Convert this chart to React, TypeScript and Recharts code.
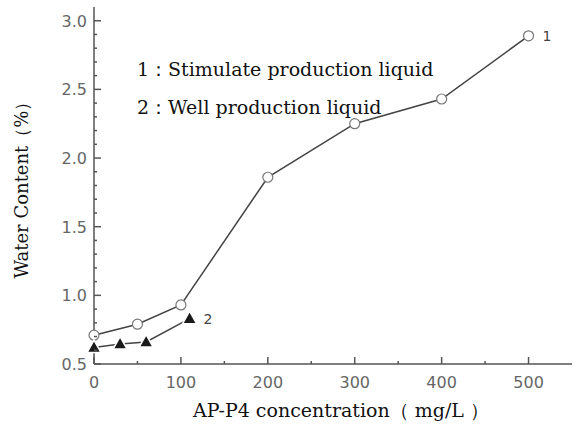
import { LabelList, Line, LineChart, XAxis, YAxis } from 'recharts';

// series 1: stimulate production liquid (open circles)
const stimX = [0, 50, 100, 200, 300, 400, 500];
const stimY = [0.71, 0.79, 0.93, 1.86, 2.25, 2.43, 2.89];
// series 2: well production liquid (filled triangles)
const wellX = [0, 30, 60, 110];
const wellY = [0.62, 0.645, 0.66, 0.83];

const X_TICKS = [0, 50, 100, 150, 200, 250, 300, 350, 400, 450, 500];
const Y_TICKS = [0.5, 0.6, 0.7, 0.8, 0.9, 1.0, 1.1, 1.2, 1.3, 1.4, 1.5, 1.6, 1.7, 1.8, 1.9, 2.0, 2.1, 2.2, 2.3, 2.4, 2.5, 2.6, 2.7, 2.8, 2.9, 3.0];

const stimData = stimX.map((x, i) => ({ x, y: stimY[i] }));
const wellData = wellX.map((x, i) => ({ x, y: wellY[i] }));

const AXIS = '#555';
const TICK_TEXT = '#666';
const SERIF = '"DejaVu Serif", "Liberation Serif", serif';
const SANS = '"DejaVu Sans", Arial, sans-serif';

const Y_MARGIN = 7;
const X_MARGIN = 12;

// ticks point inward, labels only on the major ones
function YTick(props: any) {
  const { x, y, payload } = props;
  const v = payload.value as number;
  const major = Math.abs(v * 2 - Math.round(v * 2)) < 1e-6;
  const ax = x + Y_MARGIN;
  return (
    <g>
      <line x1={ax} x2={ax + (major ? 7 : 3)} y1={y} y2={y} stroke={AXIS} strokeWidth={1.5} />
      {major && (
        <text x={x} y={y} dy={6} textAnchor="end" fontSize={16} fontFamily={SANS} fill={TICK_TEXT}>
          {v.toFixed(1)}
        </text>
      )}
    </g>
  );
}

function XTick(props: any) {
  const { x, y, payload } = props;
  const v = payload.value as number;
  const major = v % 100 === 0;
  const ay = y - X_MARGIN;
  return (
    <g>
      <line x1={x} x2={x} y1={ay} y2={ay - (major ? 7 : 3)} stroke={AXIS} strokeWidth={1.5} />
      {major && (
        <text x={x} y={y} dy={12} textAnchor="middle" fontSize={16} fontFamily={SANS} fill={TICK_TEXT}>
          {v}
        </text>
      )}
    </g>
  );
}

function Triangle(props: any) {
  const { cx, cy } = props;
  if (cx == null || cy == null) return <g />;
  return (
    <path
      d={`M${cx},${cy - 7.5} L${cx + 7},${cy + 5} L${cx - 7},${cy + 5} Z`}
      fill="#1a1a1a"
      stroke="#fff"
      strokeWidth={1.5}
    />
  );
}

function endLabel(text: string, last: number) {
  return (p: any) =>
    p.index === last ? (
      <text x={p.x + 14} y={p.y} dy={5} fontSize={14} fontFamily={SANS} fill="#444">
        {text}
      </text>
    ) : null;
}

const noteStyle = {
  position: 'absolute' as const,
  left: 137,
  fontFamily: SERIF,
  fontSize: 19,
  color: '#111',
  whiteSpace: 'nowrap' as const,
};

export default function App() {
  return (
    <div style={{ position: 'absolute', left: 0, top: 0, width: 575, height: 432, background: '#fff' }}>
      <LineChart width={575} height={432} data={stimData} margin={{ top: 7, right: 3, bottom: 38, left: 34 }}>
        <XAxis
          dataKey="x"
          type="number"
          domain={[0, 550]}
          ticks={X_TICKS}
          interval={0}
          tickSize={0}
          tickMargin={X_MARGIN}
          tickLine={false}
          height={30}
          axisLine={{ stroke: AXIS, strokeWidth: 1.5 }}
          tick={<XTick />}
          label={{
            content: ({ viewBox }: any) => (
              <text
                x={viewBox.x + viewBox.width / 2 + 8}
                y={viewBox.y + 53}
                textAnchor="middle"
                fontSize={19}
                fontFamily={SERIF}
                fill="#111"
              >
                AP-P4 concentration（ mg/L ）
              </text>
            ),
          }}
        />
        {/* top and right axes only close the frame */}
        <XAxis
          xAxisId="top"
          orientation="top"
          dataKey="x"
          type="number"
          domain={[0, 550]}
          height={0}
          tick={false}
          tickLine={false}
          axisLine={{ stroke: AXIS, strokeWidth: 1.5 }}
        />
        <YAxis
          type="number"
          domain={[0.5, 3.1]}
          ticks={Y_TICKS}
          interval={0}
          tickSize={0}
          tickMargin={Y_MARGIN}
          tickLine={false}
          width={60}
          axisLine={{ stroke: AXIS, strokeWidth: 1.5 }}
          tick={<YTick />}
          label={{
            content: ({ viewBox }: any) => {
              const cx = viewBox.x - 6;
              const cy = viewBox.y + viewBox.height / 2;
              return (
                <text
                  x={cx}
                  y={cy}
                  transform={`rotate(-90 ${cx} ${cy})`}
                  textAnchor="middle"
                  fontSize={18}
                  fontFamily={SERIF}
                  fill="#111"
                >
                  Water Content（%）
                </text>
              );
            },
          }}
        />
        <YAxis
          yAxisId="right"
          orientation="right"
          type="number"
          domain={[0.5, 3.1]}
          width={0}
          tick={false}
          tickLine={false}
          axisLine={{ stroke: AXIS, strokeWidth: 1.5 }}
        />
        <Line
          data={stimData}
          dataKey="y"
          stroke="#444"
          strokeWidth={1.5}
          isAnimationActive={false}
          dot={{ r: 5, fill: '#fff', stroke: '#777', strokeWidth: 1.2 }}
        >
          <LabelList dataKey="y" content={endLabel('1', stimData.length - 1)} />
        </Line>
        <Line
          data={wellData}
          dataKey="y"
          stroke="#444"
          strokeWidth={1.5}
          isAnimationActive={false}
          dot={<Triangle />}
        >
          <LabelList dataKey="y" content={endLabel('2', wellData.length - 1)} />
        </Line>
      </LineChart>
      <div style={{ ...noteStyle, top: 57 }}>1：Stimulate production liquid</div>
      <div style={{ ...noteStyle, top: 95 }}>2：Well production liquid</div>
    </div>
  );
}
